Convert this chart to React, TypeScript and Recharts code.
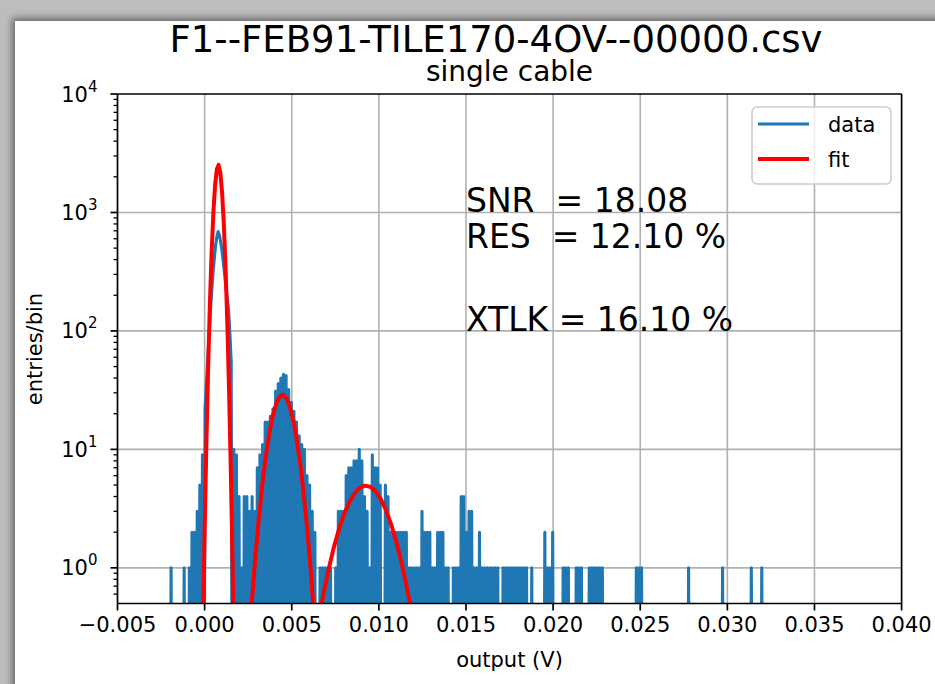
import React from 'react';
import { LineChart, Line, XAxis, YAxis, ReferenceLine, ReferenceDot } from 'recharts';

const FONT = '"DejaVu Sans", sans-serif';

// Histogram: bin width and centre of the first listed bin (V)
const BIN_WIDTH = 0.000075;
const FIRST_BIN_CENTER = -0.002225;
// entries per bin (many narrow bins are empty)
const COUNTS = [
  0, 0, 0, 0, 1, 0, 0, 0, 0, 0, 0, 0, 0, 0, 1, 0, 0, 0, 1, 0,
  2, 0, 2, 0, 3, 0, 5, 0, 9, 0, 22, 35, 55, 90, 140, 210, 300, 400, 520, 620,
  690, 640, 560, 470, 380, 300, 230, 190, 150, 95, 55, 0, 10, 0, 9, 0, 4, 0, 1, 0,
  4, 0, 4, 0, 3, 0, 4, 0, 3, 0, 7, 0, 9, 0, 11, 0, 17, 0, 17, 0,
  19, 0, 22, 0, 31, 0, 36, 0, 40, 0, 43, 0, 42, 0, 32, 0, 25, 0, 21, 0,
  17, 0, 13, 0, 11, 0, 10, 0, 6, 0, 5, 0, 3, 0, 2, 0, 0, 0, 1, 0,
  1, 0, 1, 0, 1, 0, 1, 0, 0, 0, 1, 0, 3, 0, 3, 0, 3, 0, 6, 0,
  7, 0, 7, 0, 8, 0, 8, 0, 10, 0, 8, 0, 4, 0, 3, 0, 1, 0, 9, 0,
  7, 0, 7, 0, 5, 0, 0, 0, 5, 0, 4, 0, 2, 0, 2, 0, 2, 0, 2, 0,
  2, 0, 2, 0, 2, 0, 1, 0, 1, 0, 1, 0, 1, 0, 1, 0, 3, 0, 2, 0,
  2, 0, 2, 0, 1, 0, 1, 0, 2, 0, 2, 0, 2, 0, 1, 0, 1, 0, 0, 0,
  1, 0, 1, 0, 1, 0, 4, 0, 4, 0, 2, 0, 3, 0, 3, 0, 1, 0, 1, 0,
  2, 0, 1, 0, 1, 0, 1, 0, 1, 0, 1, 0, 1, 0, 1, 0, 0, 0, 1, 0,
  1, 0, 1, 0, 1, 0, 1, 0, 1, 0, 1, 0, 1, 0, 1, 0, 1, 0, 0, 0,
  1, 0, 0, 0, 0, 0, 0, 0, 0, 0, 2, 0, 1, 0, 1, 0, 2, 0, 0, 0,
  0, 0, 0, 0, 1, 0, 1, 0, 1, 0, 0, 0, 0, 0, 1, 0, 1, 0, 1, 0,
  0, 0, 0, 0, 1, 0, 1, 0, 1, 0, 1, 0, 1, 0, 1, 0, 0, 0, 0, 0,
  0, 0, 0, 0, 0, 0, 0, 0, 0, 0, 0, 0, 0, 0, 0, 0, 0, 0, 0, 0,
  1, 0, 1, 0, 1, 0, 0, 0, 0, 0, 0, 0, 0, 0, 0, 0, 0, 0, 0, 0,
  0, 0, 0, 0, 0, 0, 0, 0, 0, 0, 0, 0, 0, 0, 0, 0, 0, 0, 0, 0,
  1, 0, 0, 0, 0, 0, 0, 0, 0, 0, 0, 0, 0, 0, 0, 0, 0, 0, 0, 0,
  0, 0, 0, 0, 0, 0, 1, 0, 0, 0, 0, 0, 0, 0, 0, 0, 0, 0, 0, 0,
  0, 0, 0, 0, 0, 0, 0, 0, 1, 0, 0, 0, 0, 0, 0, 0, 1, 0, 0, 0,
  0, 0, 0, 0, 0, 0,
];

// Fit curve
const FIT_X = [
  -0.0002, -0.0001, 0, 0.0001, 0.0002, 0.0003, 0.0004, 0.0005, 0.0006, 0.0007,
  0.0008, 0.0009, 0.001, 0.0011, 0.0012, 0.0013, 0.0014, 0.0015, 0.0016, 0.0017, 0.0018,
  0.0025, 0.0027, 0.0029, 0.0031, 0.0033, 0.0035, 0.0037, 0.0039, 0.0041, 0.0043,
  0.0045, 0.0047, 0.0049, 0.0051, 0.0053, 0.0055, 0.0057, 0.0059, 0.0061, 0.0063,
  0.0065, 0.0068, 0.0071, 0.0074, 0.0077, 0.008, 0.0083, 0.0086, 0.0089, 0.0092,
  0.0095, 0.0098, 0.0101, 0.0104, 0.0107, 0.011, 0.0113, 0.0116, 0.0119, 0.0122, 0.0125,
];
const FIT_Y = [
  0.034, 0.29, 2.0, 11, 48, 165, 451, 981, 1690, 2320,
  2520, 2170, 1490, 807, 348, 119, 32, 7.0, 1.2, 0.16, 0.017,
  0.185, 0.49, 1.17, 2.5, 4.9, 8.5, 13.3, 18.9, 24.2, 27.8,
  28.9, 27.0, 22.7, 17.3, 11.8, 7.3, 4.05, 2.03, 0.92, 0.37,
  0.33, 0.58, 0.95, 1.46, 2.09, 2.83, 3.58, 4.25, 4.73, 4.94,
  4.83, 4.44, 3.82, 3.09, 2.34, 1.66, 1.11, 0.69, 0.41, 0.22, 0.12,
];

const X_TICKS = [-0.005, 0, 0.005, 0.01, 0.015, 0.02, 0.025, 0.03, 0.035, 0.04];
const Y_MAJOR = [1, 10, 100, 1000, 10000];
const Y_MINOR = [
  0.6, 0.7, 0.8, 0.9,
  2, 3, 4, 5, 6, 7, 8, 9,
  20, 30, 40, 50, 60, 70, 80, 90,
  200, 300, 400, 500, 600, 700, 800, 900,
  2000, 3000, 4000, 5000, 6000, 7000, 8000, 9000,
];

const ANNOTATIONS = [
  { x: 0.015, y: 1000, text: 'SNR  = 18.08' },
  { x: 0.015, y: 500, text: 'RES  = 12.10 %' },
  { x: 0.015, y: 100, text: 'XTLK = 16.10 %' },
];

const TITLE = 'F1--FEB91-TILE170-4OV--00000.csv';
const SUBTITLE = 'single cable';
const X_LABEL = 'output (V)';
const Y_LABEL = 'entries/bin';

const LOG_FLOOR = 0.001; // empty bins are drawn below the axis floor, as on a log axis

const histData = COUNTS.map((c, i) => ({
  x: Number((FIRST_BIN_CENTER + i * BIN_WIDTH).toFixed(7)),
  y: c > 0 ? c : LOG_FLOOR,
}));
const fitData = FIT_X.map((x, i) => ({ x, y: FIT_Y[i] }));

const Y_TICKS = [...Y_MINOR, ...Y_MAJOR].sort((a, b) => a - b);

const BLUE = '#1f77b4';
const RED = '#ff0000';
const GRID = '#b0b0b0';

const fmtX = (v: number) => {
  const s = Math.abs(v).toFixed(3);
  return v < -1e-12 ? '\u2212' + s : s;
};

const YTick = (props: any) => {
  const { x, y, payload } = props;
  const v = payload.value;
  const lg = Math.log10(v);
  const exp = Math.round(lg);
  const major = Math.abs(lg - exp) < 1e-9;
  return (
    <g>
      <line x1={x - (major ? 7 : 4)} x2={x} y1={y} y2={y} stroke="#000" strokeWidth={major ? 1.7 : 1.3} />
      {major && (
        <text x={x - 20} y={y + 7.5} textAnchor="end" fontSize={21} fontFamily={FONT} fill="#000">
          10<tspan dy={-10} fontSize={15}>{exp}</tspan>
        </text>
      )}
    </g>
  );
};

const AnnotationShape = (text: string) => (p: any) => (
  <text
    x={p.cx}
    y={p.cy}
    fontSize={33}
    fontFamily={FONT}
    fill="#000"
    textAnchor="start"
    xmlSpace="preserve"
    style={{ whiteSpace: 'pre' }}
  >
    {text}
  </text>
);

export default function App() {
  return (
    <div style={{ position: 'absolute', left: 0, top: 0, width: 935, height: 684, overflow: 'hidden', background: '#bdbdbd' }}>
      <div
        style={{
          position: 'absolute',
          left: 15,
          top: 21,
          width: 940,
          height: 700,
          background: '#ffffff',
          boxShadow: '0 0 7px 3px rgba(0,0,0,0.45)',
        }}
      />
      <div style={{ position: 'absolute', left: 0, top: 0 }}>
        <LineChart width={935} height={684} margin={{ top: 94, right: 33.4, bottom: 30.5, left: 17.5 }}>
          <XAxis
            dataKey="x"
            type="number"
            domain={[-0.005, 0.04]}
            ticks={X_TICKS}
            interval={0}
            allowDataOverflow
            tickFormatter={fmtX}
            height={50}
            tickSize={7}
            tickMargin={7}
            axisLine={{ stroke: '#000', strokeWidth: 1.7 }}
            tickLine={{ stroke: '#000', strokeWidth: 1.7 }}
            tick={{ fill: '#000', fontSize: 21, fontFamily: FONT }}
          />
          <YAxis
            type="number"
            scale="log"
            domain={[0.5, 10000]}
            allowDataOverflow
            ticks={Y_TICKS}
            interval={0}
            width={100}
            tickSize={0}
            tickMargin={0}
            tickLine={false}
            axisLine={{ stroke: '#000', strokeWidth: 1.7 }}
            tick={(p: any) => <YTick {...p} />}
          />
          {X_TICKS.slice(1, -1).map((v) => (
            <ReferenceLine key={'gx' + v} x={v} stroke={GRID} strokeWidth={1.6} />
          ))}
          {Y_MAJOR.slice(0, -1).map((v) => (
            <ReferenceLine key={'gy' + v} y={v} stroke={GRID} strokeWidth={1.6} />
          ))}
          <Line
            data={histData}
            dataKey="y"
            type="linear"
            stroke={BLUE}
            strokeWidth={3.1}
            strokeLinejoin="round"
            dot={false}
            activeDot={false}
            isAnimationActive={false}
          />
          <Line
            data={fitData}
            dataKey="y"
            type="linear"
            stroke={RED}
            strokeWidth={4}
            strokeLinejoin="round"
            dot={false}
            activeDot={false}
            isAnimationActive={false}
          />
          <ReferenceLine y={10000} stroke="#000" strokeWidth={1.7} />
          <ReferenceLine x={0.04} stroke="#000" strokeWidth={1.7} />
          {ANNOTATIONS.map((a) => (
            <ReferenceDot key={a.text} x={a.x} y={a.y} r={0} fill="none" stroke="none" shape={AnnotationShape(a.text)} />
          ))}
        </LineChart>
      </div>
      <svg width={935} height={684} style={{ position: 'absolute', left: 0, top: 0, pointerEvents: 'none' }}>
        <text x={496} y={52} textAnchor="middle" fontSize={37} fontFamily={FONT} fill="#000">{TITLE}</text>
        <text x={509.5} y={81} textAnchor="middle" fontSize={28} fontFamily={FONT} fill="#000">{SUBTITLE}</text>
        <text x={509.5} y={667} textAnchor="middle" fontSize={21} fontFamily={FONT} fill="#000">{X_LABEL}</text>
        <text x={42} y={349} textAnchor="middle" fontSize={21} fontFamily={FONT} fill="#000" transform="rotate(-90 42 349)">{Y_LABEL}</text>
        <g>
          <rect x={752} y={107} width={139} height={77} rx={5} ry={5} fill="#ffffff" fillOpacity={0.8} stroke="#cccccc" strokeWidth={1.5} />
          <line x1={758} x2={809} y1={124} y2={124} stroke={BLUE} strokeWidth={3} />
          <text x={828} y={131.5} fontSize={21} fontFamily={FONT} fill="#000">data</text>
          <line x1={758} x2={809} y1={159} y2={159} stroke={RED} strokeWidth={4} />
          <text x={828} y={166.5} fontSize={21} fontFamily={FONT} fill="#000">fit</text>
        </g>
      </svg>
    </div>
  );
}
